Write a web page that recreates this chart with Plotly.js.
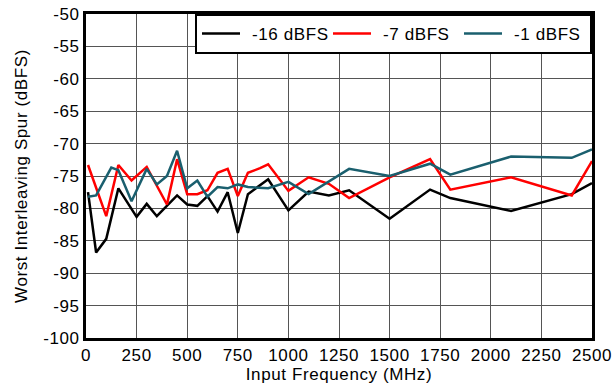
<!DOCTYPE html>
<html>
<head>
<meta charset="utf-8">
<script src="https://cdn.plot.ly/plotly-3.0.1.min.js"></script>
<style>
html,body{margin:0;padding:0;background:#fff;}
#chart{width:614px;height:385px;}
#chart text{letter-spacing:0.6px;}
#chart .legendtext{transform:translateX(7px);}
</style>
</head>
<body>
<div id="chart"></div>
<script>
const seriesNames = ["-16 dBFS", "-7 dBFS", "-1 dBFS"];

const xBlack = [10, 50, 100, 160, 250, 300, 350, 450, 500, 550, 600, 650, 700, 750, 800, 860, 900, 1000, 1100, 1200, 1300, 1500, 1700, 1800, 2100, 2400, 2500];
const yBlack = [-77.5, -86.8, -84.7, -76.9, -81.3, -79.3, -81.2, -78.0, -79.4, -79.6, -78.1, -80.5, -77.5, -83.8, -77.8, -76.4, -75.5, -80.3, -77.4, -78.0, -77.2, -81.6, -77.1, -78.4, -80.4, -77.8, -76.1];

const xRed = [10, 100, 160, 225, 300, 400, 450, 500, 550, 600, 650, 700, 750, 800, 860, 900, 1000, 1100, 1200, 1300, 1500, 1700, 1800, 2100, 2400, 2500];
const yRed = [-73.3, -81.2, -73.3, -75.7, -73.6, -79.4, -72.4, -77.8, -77.8, -77.2, -74.5, -73.9, -78.1, -74.5, -73.8, -73.2, -77.3, -75.2, -76.2, -78.4, -75.2, -72.4, -77.1, -75.2, -78.0, -72.7];

const xTeal = [10, 50, 125, 160, 225, 300, 350, 400, 450, 500, 550, 600, 650, 700, 750, 800, 900, 1000, 1100, 1300, 1500, 1700, 1800, 2100, 2400, 2500];
const yTeal = [-78.2, -78.0, -73.7, -74.1, -78.9, -73.9, -76.3, -75.0, -71.1, -76.9, -75.7, -78.2, -76.7, -76.9, -76.3, -76.7, -76.9, -75.9, -77.8, -73.9, -75.0, -73.1, -74.8, -72.0, -72.2, -70.9];

const xTicks = [0, 250, 500, 750, 1000, 1250, 1500, 1750, 2000, 2250, 2500];
const yTicks = [-100, -95, -90, -85, -80, -75, -70, -65, -60, -55, -50];

const colors = ["#000000", "#ff0000", "#1a5f6e"];
const lw = 2.5;

const traces = [
  {x: xBlack, y: yBlack, name: seriesNames[0], mode: "lines", line: {color: colors[0], width: lw}},
  {x: xRed, y: yRed, name: seriesNames[1], mode: "lines", line: {color: colors[1], width: lw}},
  {x: xTeal, y: yTeal, name: seriesNames[2], mode: "lines", line: {color: colors[2], width: lw}}
];

const font = {family: "Liberation Sans, Arial, sans-serif", size: 17, color: "#000"};

const layout = {
  width: 614, height: 385,
  margin: {l: 86, r: 22, t: 14, b: 47},
  paper_bgcolor: "#fff", plot_bgcolor: "#fff",
  font: font,
  showlegend: true,
  legend: {
    orientation: "h", x: 1, xanchor: "right", y: 1, yanchor: "top",
    bordercolor: "#000", borderwidth: 2, bgcolor: "#fff",
    font: {family: font.family, size: 17, color: "#000"},
    itemwidth: 38, tracegroupgap: 0,
    entrywidth: 78, entrywidthmode: "pixels"
  },
  xaxis: {
    range: [0, 2500], tickvals: xTicks, ticktext: xTicks.map(String),
    showgrid: true, gridcolor: "#555", gridwidth: 1,
    showline: true, linecolor: "#000", linewidth: 3, mirror: true,
    ticks: "", zeroline: false,
    title: {text: "Input Frequency (MHz)", font: font, standoff: 4}
  },
  yaxis: {
    range: [-100, -50], tickvals: yTicks, ticktext: yTicks.map(String),
    showgrid: true, gridcolor: "#555", gridwidth: 1,
    showline: true, linecolor: "#000", linewidth: 3, mirror: true,
    ticks: "", zeroline: false,
    title: {text: "Worst Interleaving Spur (dBFS)", font: font, standoff: 14}
  }
};

Plotly.newPlot("chart", traces, layout, {displayModeBar: false, staticPlot: true});
</script>
</body>
</html>
